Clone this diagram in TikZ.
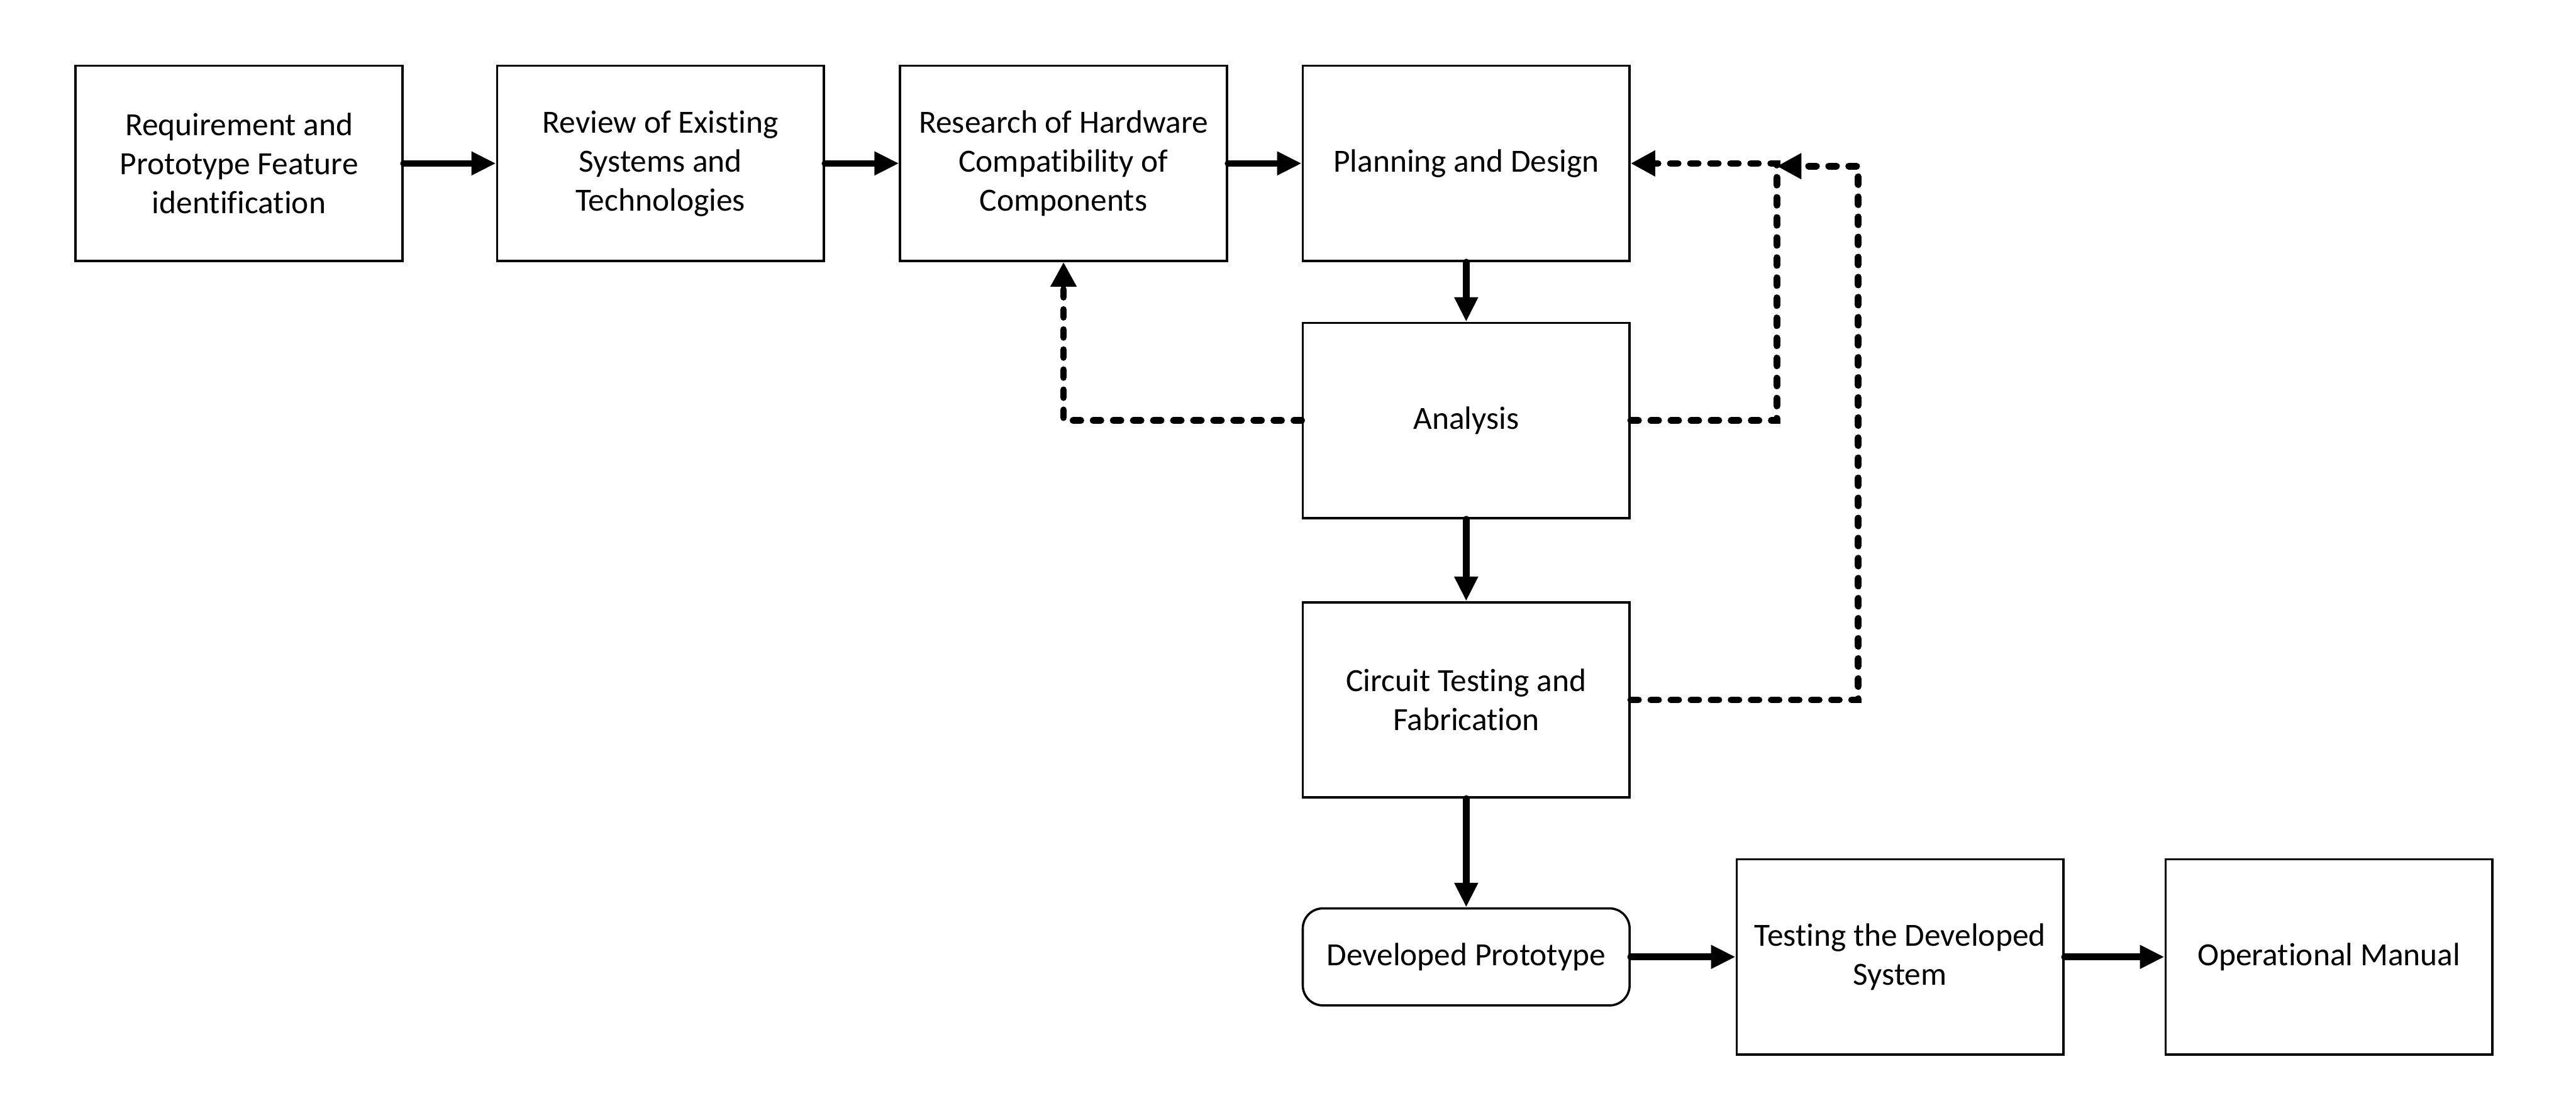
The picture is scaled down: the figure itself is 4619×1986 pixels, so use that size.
\documentclass[tikz,border=0pt]{standalone}
\usepackage{fontspec}
\setmainfont{Carlito}[Ligatures=NoCommon]
\usetikzlibrary{arrows.meta}
\begin{document}
\begin{tikzpicture}[x=0.25pt,y=-0.25pt,
  box/.style={draw, line width=1pt, minimum width=146.5pt, minimum height=87.5pt, align=center, font=\fontsize{14.5}{17.5}\selectfont, inner sep=2pt},
  rbox/.style={box, rounded corners=9pt, minimum height=43.5pt},
  flow/.style={line width=3pt, line cap=round, -{Triangle[length=11pt,width=10pt]}},
  back/.style={line width=3pt, line cap=round, dash pattern=on 3.5pt off 5.5pt, -{Triangle[length=11pt,width=11pt]}}]
\useasboundingbox (0,0) rectangle (4619,1986);
\node[box] (req) at (428.6,293) {Requirement and\\Prototype Feature\\identification};
\node[box] (rev) at (1184.3,293) {Review of Existing\\Systems and\\Technologies};
\node[box] (res) at (1907,293) {Research of Hardware\\Compatibility of\\Components};
\node[box] (plan) at (2629,293) {Planning and Design};
\node[box] (ana) at (2629,754) {Analysis};
\node[box] (cir) at (2629,1255) {Circuit Testing and\\Fabrication};
\node[rbox] (dev) at (2629,1716) {Developed Prototype};
\node[box] (test) at (3407,1716) {Testing the Developed\\System};
\node[box] (man) at (4176,1716) {Operational Manual};
\coordinate (j1) at (3186,293);
\coordinate (j1b) at (3186,298);
\coordinate (j2) at (3332,298);
\draw[flow] (req) -- (rev);
\draw[flow] (rev) -- (res);
\draw[flow] (res) -- (plan);
\draw[flow] (plan) -- (ana);
\draw[flow] (ana) -- (cir);
\draw[flow] (cir) -- (dev);
\draw[flow] (dev) -- (test);
\draw[flow] (test) -- (man);
\draw[back] (ana.west) -| (res.south);
\draw[back] (ana.east) -| (j1) -- (plan.east);
\draw[back] (cir.east) -| (j2) -- (j1b);
\end{tikzpicture}
\end{document}
